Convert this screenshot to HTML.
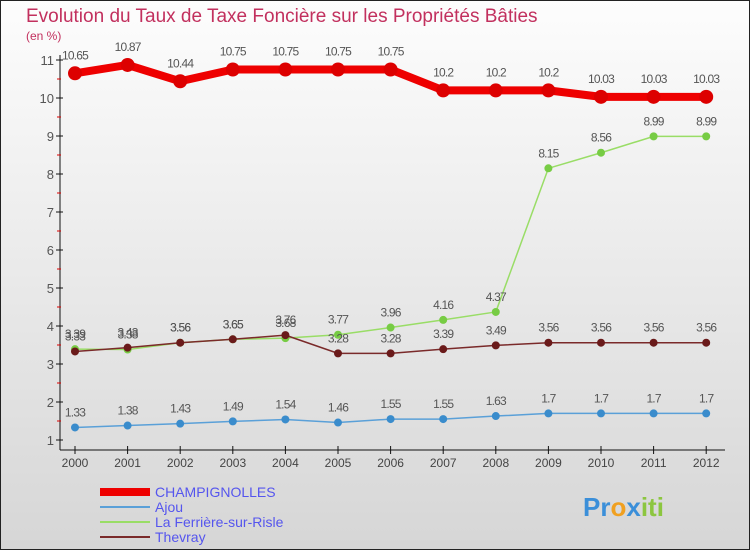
<!DOCTYPE html>
<html><head><meta charset="utf-8"><style>
body{margin:0}
svg{display:block;font-family:"Liberation Sans",sans-serif}
</style></head><body>
<svg width="750" height="550">
<defs><linearGradient id="bg" x1="0" y1="0" x2="0" y2="1"><stop offset="0" stop-color="#fdfdfd"/><stop offset="1" stop-color="#d6d6d6"/></linearGradient></defs>
<rect x="0.5" y="0.5" width="749" height="549" fill="url(#bg)" stroke="#222"/>
<text x="26" y="22" font-size="19" fill="#c2305e">Evolution du Taux de Taxe Foncière sur les Propriétés Bâties</text>
<text x="26" y="40" font-size="12" fill="#c2305e">(en %)</text>
<g id="axes"></g>
<g id="plot"></g>
<g id="legend"></g>
<text x="583" y="516" font-size="26" font-weight="bold"><tspan fill="#3b8fd9">Pr</tspan><tspan fill="#f0a020">o</tspan><tspan fill="#3b8fd9">x</tspan><tspan fill="#8cc63f">iti</tspan></text>
</svg>
<script>
const years=[2000,2001,2002,2003,2004,2005,2006,2007,2008,2009,2010,2011,2012];
const champ=[10.65,10.87,10.44,10.75,10.75,10.75,10.75,10.2,10.2,10.2,10.03,10.03,10.03];
const ajou=[1.33,1.38,1.43,1.49,1.54,1.46,1.55,1.55,1.63,1.7,1.7,1.7,1.7];
const ferriere=[3.39,3.38,3.56,3.65,3.68,3.77,3.96,4.16,4.37,8.15,8.56,8.99,8.99];
const thevray=[3.33,3.43,3.56,3.65,3.76,3.28,3.28,3.39,3.49,3.56,3.56,3.56,3.56];
const yTicks=[1,2,3,4,5,6,7,8,9,10,11];
const seriesNames=["CHAMPIGNOLLES","Ajou","La Ferrière-sur-Risle","Thevray"];
const NS="http://www.w3.org/2000/svg";
const X=i=>75+i*52.6, Y=v=>440-(v-1)*38;
function mk(p,t,a){const e=document.createElementNS(NS,t);for(const k in a)e.setAttribute(k,a[k]);p.appendChild(e);return e;}
const ax=document.getElementById('axes');
let l=mk(ax,'line',{x1:60,y1:55,x2:60,y2:450,stroke:'#111'});

l=mk(ax,'line',{x1:60,y1:450,x2:725,y2:450,stroke:'#111'});

yTicks.forEach(v=>{
  mk(ax,'line',{x1:56,y1:Y(v),x2:63,y2:Y(v),stroke:'#111'});
  if(v<11) mk(ax,'line',{x1:57,y1:Y(v+0.5),x2:61,y2:Y(v+0.5),stroke:'#d00'});
  const t=mk(ax,'text',{x:54,y:Y(v)+5,'font-size':13,fill:'#555','text-anchor':'end'});t.textContent=v;
  
});
years.forEach((y,i)=>{
  mk(ax,'line',{x1:X(i),y1:446,x2:X(i),y2:454,stroke:'#111'});
  const t=mk(ax,'text',{x:X(i),y:467,'font-size':12,fill:'#444','text-anchor':'middle'});t.textContent=y;
  
});
const pl=document.getElementById('plot');
const defs=[[champ,'#ee0000',8,7,'#dd0000','champignolles'],[ajou,'#5aa0d8',1.5,4,'#3a8ccc','ajou'],[ferriere,'#99dd66',1.5,4,'#77cc44','la-ferriere'],[thevray,'#7a2a2a',1.5,4,'#6a1a1a','thevray']];
defs.forEach(([d,c,w,r,fc,n])=>{
  const g=mk(pl,'g',{});
  mk(g,'polyline',{points:d.map((v,i)=>X(i)+','+Y(v)).join(' '),fill:'none',stroke:c,'stroke-width':w,'stroke-linejoin':'round'});
  d.forEach((v,i)=>{
    const p=mk(g,'circle',{cx:X(i),cy:Y(v),r:r,fill:fc});
    
    const t=mk(g,'text',{x:X(i),y:Y(v)-(r+7),'font-size':12,fill:'#555','text-anchor':'middle','letter-spacing':'-0.8'});t.textContent=v;
    
  });
});
const lg=document.getElementById('legend');
const lc=['#ee0000','#5aa0d8','#99dd66','#7a2a2a'],lw=[8,2,2,2];
seriesNames.forEach((s,i)=>{
  const y=492+i*15;
  const g=mk(lg,'g',{});
  mk(g,'line',{x1:100,y1:y,x2:150,y2:y,stroke:lc[i],'stroke-width':lw[i]});
  const t=mk(g,'text',{x:155,y:y+5,'font-size':14,fill:'#5555ee'});t.textContent=s;
});
</script>
</body></html>
